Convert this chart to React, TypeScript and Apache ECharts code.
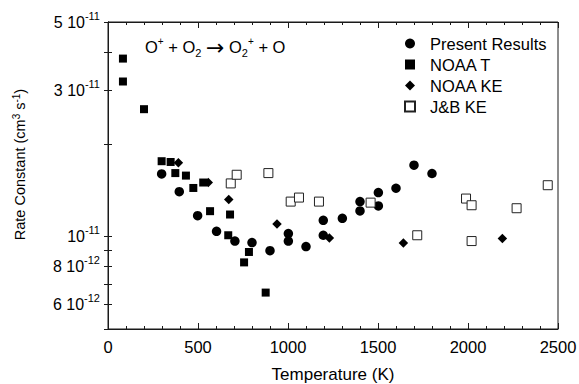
import React, { useEffect, useRef } from 'react';
import * as echarts from 'echarts';

// Rate constants in units of 1e-11 cm^3 s^-1, temperatures in K
const presentT = [298, 396, 498, 603, 705, 800, 900, 1002, 1002, 1100, 1196, 1196, 1302, 1400, 1400, 1502, 1502, 1600, 1700, 1800];
const presentK = [1.60, 1.40, 1.17, 1.04, 0.967, 0.956, 0.900, 1.023, 0.967, 0.928, 1.13, 1.01, 1.147, 1.30, 1.212, 1.391, 1.258, 1.437, 1.708, 1.605];

const noaaTT = [83, 83, 200, 298, 348, 374, 433, 474, 529, 567, 668, 678, 756, 783, 876];
const noaaTK = [3.8, 3.2, 2.6, 1.76, 1.75, 1.61, 1.58, 1.44, 1.50, 1.21, 1.01, 1.18, 0.824, 0.891, 0.657];

const noaaKET = [391, 557, 671, 939, 1230, 1641, 2191];
const noaaKEK = [1.74, 1.50, 1.32, 1.10, 0.99, 0.953, 0.985];

const jbT = [682, 715, 891, 1015, 1061, 1172, 1459, 1718, 1989, 2020, 2020, 2270, 2443];
const jbK = [1.49, 1.59, 1.61, 1.30, 1.34, 1.30, 1.29, 1.01, 1.33, 1.265, 0.967, 1.237, 1.47];

const seriesNames = ['Present Results', 'NOAA T', 'NOAA KE', 'J&B KE'];

const xTickInterval = 500;
const yLabelValues = [0.6, 0.8, 1, 3, 5];
const yLabelMantissa = ['6 10', '8 10', '10', '3 10', '5 10'];
const yLabelExponent = ['-12', '-12', '-11', '-11', '-11'];
const yTickValues = [0.5, 0.6, 0.7, 0.8, 0.9, 1, 2, 3, 4, 5];

const FONT = "'Liberation Sans', Arial, Helvetica, sans-serif";

function pairs(xs: number[], ys: number[]) {
  return xs.map((x, i) => [x, ys[i]]);
}

export default function App() {
  const ref = useRef<HTMLDivElement>(null);
  useEffect(() => {
    if (!ref.current) return;
    const chart = echarts.init(ref.current, null, { renderer: 'svg' });
    const axisLine = { show: true, lineStyle: { color: '#1a1a1a', width: 1 } };
    const supRich = {
      n: { fontSize: 16, fontFamily: FONT, color: '#000', lineHeight: 24 },
      s: { fontSize: 11, fontFamily: FONT, color: '#000', lineHeight: 11, verticalAlign: 'top' },
    };
    chart.setOption({
      animation: false,
      backgroundColor: '#fff',
      title: {
        text: '{o|O}{p|+}{o| + O}{b|2}{o| }{a|\u2192}{o| O}{b|2}{p|+}{o| + O}',
        left: 145,
        top: 36,
        padding: 0,
        textStyle: {
          fontWeight: 'normal',
          rich: {
            o: { fontSize: 16.5, fontFamily: FONT, fontWeight: 'normal', color: '#000', lineHeight: 22 },
            a: { fontSize: 22, fontFamily: "'DejaVu Sans', sans-serif", fontWeight: 'normal', color: '#000', lineHeight: 22 },
            p: { fontSize: 10, fontFamily: FONT, fontWeight: 'normal', color: '#000', lineHeight: 12, verticalAlign: 'top' },
            b: { fontSize: 11, fontFamily: FONT, fontWeight: 'normal', color: '#000', lineHeight: 10, verticalAlign: 'bottom' },
          },
        },
      },
      legend: {
        orient: 'vertical',
        left: 404,
        top: 35,
        padding: 0,
        itemWidth: 10,
        itemHeight: 10,
        itemGap: 4,
        symbolKeepAspect: true,
        data: seriesNames,
        textStyle: { fontSize: 16.5, fontFamily: FONT, color: '#000', lineHeight: 16, padding: [0, 0, 0, 10] },
      },
      grid: {
        left: 108,
        right: 21,
        top: 22,
        bottom: 55,
        outerBoundsMode: 'none',
        containLabel: false,
        show: true,
        borderColor: '#1a1a1a',
        borderWidth: 1,
        backgroundColor: 'transparent',
      },
      xAxis: [
        {
          type: 'value',
          min: 0,
          max: 2500,
          interval: xTickInterval,
          position: 'bottom',
          name: 'Temperature (K)',
          nameLocation: 'middle',
          nameGap: 37,
          nameTextStyle: { fontSize: 17, fontFamily: FONT, color: '#000' },
          axisLine,
          axisTick: { show: true, inside: true, length: 6, lineStyle: { color: '#1a1a1a' } },
          minorTick: { show: true, splitNumber: 5, length: 3, lineStyle: { color: '#1a1a1a' } },
          axisLabel: {
            fontSize: 16.5,
            fontFamily: FONT,
            color: '#000',
            margin: 9,
            formatter: (v: number) => String(v),
          },
          splitLine: { show: false },
        },
        {
          type: 'value',
          min: 0,
          max: 2500,
          interval: xTickInterval,
          position: 'top',
          axisLine,
          axisTick: { show: true, inside: true, length: 6, lineStyle: { color: '#1a1a1a' } },
          minorTick: { show: true, splitNumber: 5, length: 3, lineStyle: { color: '#1a1a1a' } },
          axisLabel: { show: false },
          splitLine: { show: false },
        },
      ],
      yAxis: [
        {
          type: 'log',
          logBase: 10,
          min: 0.5,
          max: 5,
          position: 'left',
          name: '{n|Rate Constant (cm}{s|3}{n| s}{s|-1}{n|)}',
          nameLocation: 'middle',
          nameGap: 79,
          nameTextStyle: {
            padding: [0, 0, 0, 22],
            rich: {
              n: { fontSize: 14.5, fontFamily: FONT, color: '#000', lineHeight: 18 },
              s: { fontSize: 10, fontFamily: FONT, color: '#000', lineHeight: 10, verticalAlign: 'top' },
            },
          },
          axisLine,
          axisTick: { show: true, inside: true, length: 4, customValues: yTickValues, lineStyle: { color: '#1a1a1a' } },
          axisLabel: {
            customValues: yLabelValues,
            margin: 8,
            formatter: (v: number) => {
              let idx = -1;
              yLabelValues.forEach((lv, i) => {
                if (Math.abs(lv - v) < 1e-6) idx = i;
              });
              if (idx < 0) return '';
              return '{n|' + yLabelMantissa[idx] + '}{s|' + yLabelExponent[idx] + '}';
            },
            rich: supRich,
          },
          splitLine: { show: false },
          minorTick: { show: false },
        },
        {
          type: 'log',
          logBase: 10,
          min: 0.5,
          max: 5,
          position: 'right',
          axisLine,
          axisTick: { show: true, inside: true, length: 4, customValues: yTickValues, lineStyle: { color: '#1a1a1a' } },
          axisLabel: { show: false },
          splitLine: { show: false },
        },
      ],
      series: [
        {
          name: seriesNames[0],
          type: 'scatter',
          symbol: 'circle',
          symbolSize: 9.5,
          symbolKeepAspect: true,
          itemStyle: { color: '#000', opacity: 1 },
          data: pairs(presentT, presentK),
        },
        {
          name: seriesNames[1],
          type: 'scatter',
          symbol: 'rect',
          symbolSize: 8,
          symbolKeepAspect: true,
          itemStyle: { color: '#000', opacity: 1 },
          data: pairs(noaaTT, noaaTK),
        },
        {
          name: seriesNames[2],
          type: 'scatter',
          symbol: 'diamond',
          symbolSize: 9.5,
          symbolKeepAspect: true,
          itemStyle: { color: '#000', opacity: 1 },
          data: pairs(noaaKET, noaaKEK),
        },
        {
          name: seriesNames[3],
          type: 'scatter',
          symbol: 'rect',
          symbolSize: 9,
          symbolKeepAspect: true,
          itemStyle: { color: '#fff', borderColor: '#222', borderWidth: 1, opacity: 1 },
          data: pairs(jbT, jbK),
        },
      ],
    });
    return () => chart.dispose();
  }, []);
  return (
    <div
      ref={ref}
      style={{ position: 'absolute', left: 0, top: 0, width: 579, height: 384 }}
    />
  );
}
